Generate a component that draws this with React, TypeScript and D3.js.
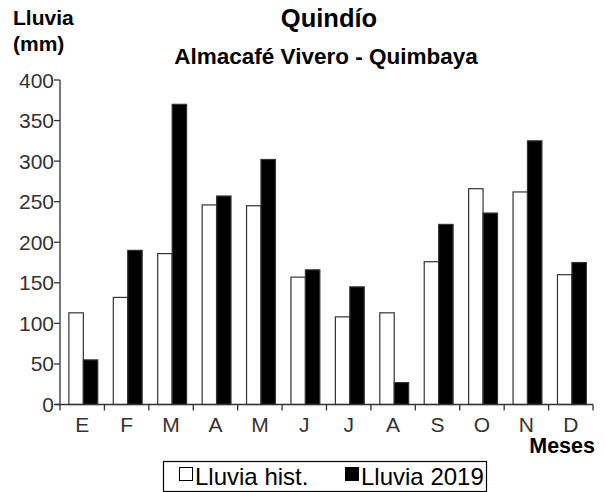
import React from "react";
import * as d3 from "d3";

const months = ["E", "F", "M", "A", "M", "J", "J", "A", "S", "O", "N", "D"];
const histValues = [113, 132, 186, 246, 245, 157, 108, 113, 176, 266, 262, 160];
const values2019 = [55, 190, 370, 257, 302, 166, 145, 27, 222, 236, 325, 175];
const yTicks = [0, 50, 100, 150, 200, 250, 300, 350, 400];
const seriesNames = ["Lluvia hist.", "Lluvia 2019"];

const W = 605;
const H = 492;
const left = 60;
const right = 593;
const top = 80;
const bottom = 404.5;
const font = "'Liberation Sans', Arial, sans-serif";

export default function App() {
  const idx = months.map((_, i) => i);
  const x = d3.scaleBand<number>().domain(idx).range([left, right]).paddingInner(0).paddingOuter(0);
  const y = d3.scaleLinear().domain([0, 400]).range([bottom, top]);
  const bw = x.bandwidth();
  const barW = bw * 0.325;
  const offset = bw * 0.2;

  return (
    <svg width={W} height={H} style={{ position: "absolute", left: 0, top: 0, background: "#fff" }} fontFamily={font}>
      <rect x={0} y={0} width={W} height={H} fill="#fff" />
      <text x={13} y={25} fontSize={21} fontWeight="bold" fill="#000">Lluvia</text>
      <text x={13} y={51} fontSize={21} fontWeight="bold" fill="#000">(mm)</text>
      <text x={329} y={27} fontSize={25.5} fontWeight="bold" textAnchor="middle" fill="#000">Quindío</text>
      <text x={326} y={64} fontSize={22.5} fontWeight="bold" textAnchor="middle" fill="#000">Almacafé Vivero - Quimbaya</text>

      {idx.map((i) => (
        <g key={i}>
          <rect x={x(i)! + offset} y={y(histValues[i])} width={barW} height={bottom - y(histValues[i])} fill="#fff" stroke="#333" strokeWidth={1.2} />
          <rect x={x(i)! + offset + barW} y={y(values2019[i])} width={barW} height={bottom - y(values2019[i])} fill="#000" stroke="#333" strokeWidth={1.2} />
        </g>
      ))}

      <line x1={left} x2={left} y1={top} y2={bottom} stroke="#333" strokeWidth={1.3} />
      <line x1={left - 5} x2={right} y1={bottom} y2={bottom} stroke="#333" strokeWidth={1.3} />
      {yTicks.map((t) => (
        <g key={t}>
          <line x1={left - 6} x2={left} y1={y(t)} y2={y(t)} stroke="#333" strokeWidth={1.3} />
          <text x={left - 6} y={y(t) + 7.5} fontSize={21} textAnchor="end" fill="#333">{t}</text>
        </g>
      ))}
      {[...idx, 12].map((i) => {
        const xx = i < 12 ? x(i)! : right;
        return <line key={"t" + i} x1={xx} x2={xx} y1={bottom} y2={bottom + 6} stroke="#333" strokeWidth={1.3} />;
      })}
      {idx.map((i) => (
        <text key={"l" + i} x={x(i)! + bw / 2} y={432} fontSize={21} textAnchor="middle" fill="#333">{months[i]}</text>
      ))}
      <text x={right + 2} y={453} fontSize={21.5} fontWeight="bold" textAnchor="end" fill="#000">Meses</text>

      <rect x={163.5} y={461.5} width={323} height={30} fill="#fff" stroke="#000" strokeWidth={1.2} />
      <rect x={179.5} y={467.5} width={13} height={13} fill="#fff" stroke="#000" strokeWidth={1} />
      <text x={195} y={485} fontSize={24} fill="#000">{seriesNames[0]}</text>
      <rect x={345.5} y={467.5} width={13} height={13} fill="#000" stroke="#000" strokeWidth={1} />
      <text x={361} y={485} fontSize={24} fill="#000">{seriesNames[1]}</text>
    </svg>
  );
}
